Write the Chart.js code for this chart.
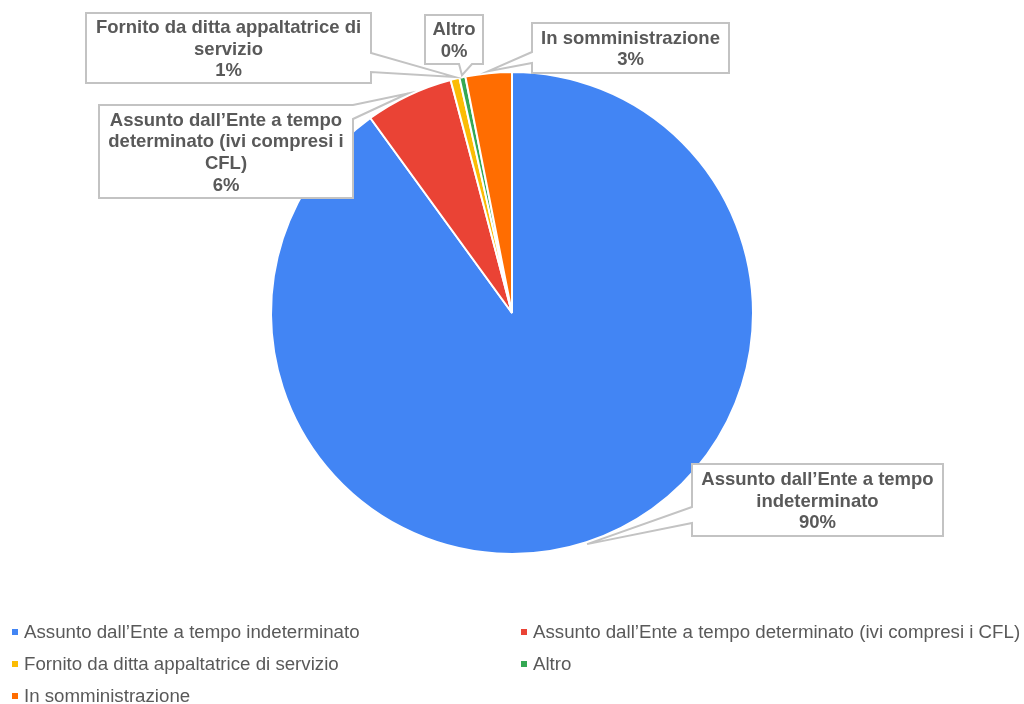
<!DOCTYPE html>
<html>
<head>
<meta charset="utf-8">
<script src="https://cdn.jsdelivr.net/npm/chart.js@4.4.1/dist/chart.umd.min.js"></script>
<style>
  html, body { margin: 0; padding: 0; background: #fff; }
  #torta { display: block; }
</style>
</head>
<body>
<canvas id="torta" width="1024" height="704"></canvas>
<script>
// Tipologia di rapporto di lavoro del personale
var categorie = [
  "Assunto dall\u2019Ente a tempo indeterminato",
  "Assunto dall\u2019Ente a tempo determinato (ivi compresi i CFL)",
  "Fornito da ditta appaltatrice di servizio",
  "Altro",
  "In somministrazione"
];
var valori = [90.0, 5.9, 0.6, 0.4, 3.1];
var colori = ["#4285F4", "#EA4335", "#FBBC04", "#34A853", "#FF6D01"];

// righe di testo dei riquadri (la percentuale viene aggiunta sotto)
var etichette = [
  ["Assunto dall\u2019Ente a tempo", "indeterminato"],
  ["Assunto dall\u2019Ente a tempo", "determinato (ivi compresi i", "CFL)"],
  ["Fornito da ditta appaltatrice di", "servizio"],
  ["Altro"],
  ["In somministrazione"]
];

// riquadri dei callout: x, y, w, h, lato del "becco" e suoi due punti d'attacco
var riquadri = [
  { x: 692, y: 464, w: 251, h: 72, lato: "left",   a: 507, b: 523 },
  { x: 99,  y: 105, w: 254, h: 93, lato: "right",  a: 105, b: 119 },
  { x: 86,  y: 13,  w: 285, h: 70, lato: "right",  a: 53,  b: 72 },
  { x: 425, y: 15,  w: 58,  h: 49, lato: "bottom", a: 459, b: 472 },
  { x: 532, y: 23,  w: 197, h: 50, lato: "left",   a: 52,  b: 63 }
];

var totale = valori.reduce(function(s, v){ return s + v; }, 0);

function percento(v){
  return Math.round(v / totale * 100) + "%";
}

function tracciaRiquadro(ctx, r, tip){
  var x1 = r.x, y1 = r.y, x2 = r.x + r.w, y2 = r.y + r.h;
  ctx.beginPath();
  ctx.moveTo(x1, y1);
  ctx.lineTo(x2, y1);
  if (r.lato == "right"){
    ctx.lineTo(x2, r.a); ctx.lineTo(tip.x, tip.y); ctx.lineTo(x2, r.b);
  }
  ctx.lineTo(x2, y2);
  if (r.lato == "bottom"){
    ctx.lineTo(r.b, y2); ctx.lineTo(tip.x, tip.y); ctx.lineTo(r.a, y2);
  }
  ctx.lineTo(x1, y2);
  if (r.lato == "left"){
    ctx.lineTo(x1, r.b); ctx.lineTo(tip.x, tip.y); ctx.lineTo(x1, r.a);
  }
  ctx.closePath();
}

var calloutPlugin = {
  id: "callout",
  afterDatasetsDraw: function(chart){
    var ctx = chart.ctx;
    var archi = chart.getDatasetMeta(0).data;
    ctx.save();
    archi.forEach(function(arco, i){
      var p = arco.getProps(["x", "y", "startAngle", "endAngle", "outerRadius"], true);
      var mid = (p.startAngle + p.endAngle) / 2;
      var tip = {
        x: p.x + Math.cos(mid) * (p.outerRadius + 2),
        y: p.y + Math.sin(mid) * (p.outerRadius + 2)
      };
      var r = riquadri[i];
      tracciaRiquadro(ctx, r, tip);
      ctx.fillStyle = "#ffffff";
      ctx.fill();
      ctx.strokeStyle = "#c3c3c3";
      ctx.lineWidth = 2;
      ctx.lineJoin = "miter";
      ctx.stroke();

      var righe = etichette[i].concat([percento(valori[i])]);
      var lh = 21.7;
      var cx = r.x + r.w / 2;
      var y0 = r.y + r.h / 2 - (righe.length - 1) * lh / 2 + 1.5;
      ctx.fillStyle = "#595959";
      ctx.font = "bold 18.5px 'Liberation Sans', Arial, sans-serif";
      ctx.textAlign = "center";
      ctx.textBaseline = "middle";
      righe.forEach(function(t, k){
        ctx.fillText(t, cx, y0 + k * lh);
      });
    });
    ctx.restore();
  },
  afterDraw: function(chart){
    // legenda su due colonne
    var ctx = chart.ctx;
    var colX = [12, 521];
    var rigaY = [632, 664, 696];
    ctx.save();
    ctx.font = "18.7px 'Liberation Sans', Arial, sans-serif";
    ctx.textAlign = "left";
    ctx.textBaseline = "middle";
    categorie.forEach(function(nome, i){
      var x = colX[i % 2];
      var y = rigaY[Math.floor(i / 2)];
      ctx.fillStyle = colori[i];
      ctx.fillRect(x, y - 3, 6, 6);
      ctx.fillStyle = "#595959";
      ctx.fillText(nome, x + 12, y + 1);
    });
    ctx.restore();
  }
};

var grafico = new Chart(document.getElementById("torta"), {
  type: "pie",
  data: {
    labels: categorie,
    datasets: [{
      data: valori,
      backgroundColor: colori,
      borderColor: "#ffffff",
      borderWidth: 2
    }]
  },
  options: {
    responsive: false,
    animation: false,
    layout: { padding: { top: 71, bottom: 149, left: 0, right: 0 } },
    plugins: {
      legend: { display: false },
      tooltip: { enabled: false }
    }
  },
  plugins: [calloutPlugin]
});
</script>
</body>
</html>
